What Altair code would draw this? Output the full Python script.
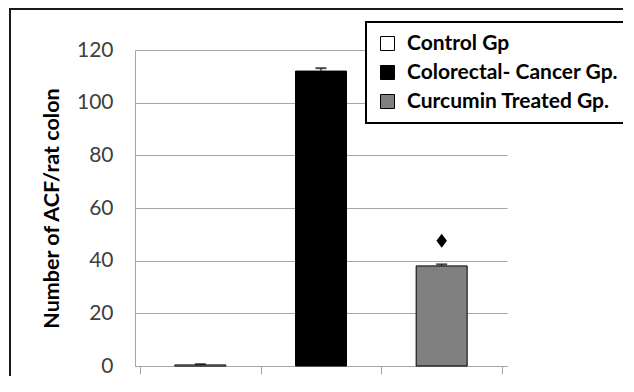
import altair as alt
import pandas as pd

groups = ["Control Gp", "Colorectal- Cancer Gp.", "Curcumin Treated Gp."]
means = [0.4, 112.0, 38.0]
errors = [0.3, 1.1, 0.6]
marker_values = [None, None, 47.6]
colors = ["#ffffff", "#000000", "#808080"]
y_ticks = [0, 20, 40, 60, 80, 100, 120]

df = pd.DataFrame({
    "group": groups,
    "pos": [i + 0.5 for i in range(len(groups))],
    "mean": means,
    "upper": [m + e for m, e in zip(means, errors)],
})
mk = pd.DataFrame({
    "pos": [i + 0.5 for i, v in enumerate(marker_values) if v is not None],
    "val": [v for v in marker_values if v is not None],
})

xscale = alt.Scale(domain=[0, 3], nice=False, zero=False)
yscale = alt.Scale(domain=[0, 120], nice=False)

x_enc = alt.X("pos:Q", scale=xscale,
              axis=alt.Axis(values=[0, 1, 2, 3], labels=False, title=None, grid=False,
                            tickSize=8, tickColor="#a6a6a6", domainColor="#a6a6a6"))
y_enc = alt.Y("mean:Q", scale=yscale,
              axis=alt.Axis(values=y_ticks, title="Number  of ACF/rat colon",
                            grid=True, gridColor="#a6a6a6", domainColor="#a6a6a6",
                            ticks=False, labelPadding=22,
                            labelFont="Lato", labelFontSize=21, labelColor="#404040",
                            titleFont="Lato", titleFontSize=21.5, titleFontWeight="bold",
                            titleColor="#000000", titleX=-72, titleY=158))

base = alt.Chart(df)

bars = base.mark_bar(size=51, stroke="#000000", strokeWidth=1).encode(
    x=x_enc,
    y=y_enc,
    color=alt.Color("group:N", sort=None,
                    scale=alt.Scale(domain=groups, range=colors),
                    legend=alt.Legend(title=None, orient="none", legendX=231, legendY=-28,
                                      symbolType="square", symbolSize=196,
                                      symbolStrokeColor="#000000", symbolStrokeWidth=1,
                                      labelFont="Lato", labelFontSize=21,
                                      labelFontWeight="bold", labelColor="#000000",
                                      labelLimit=400,
                                      labelOffset=9, rowPadding=7, padding=11,
                                      strokeColor="#000000", fillColor="#ffffff")),
)

err = base.mark_rule(color="#000000", strokeWidth=1).encode(
    x="pos:Q", y="mean:Q", y2="upper:Q")
caps = base.mark_tick(orient="horizontal", size=11, thickness=2, color="#000000").encode(
    x="pos:Q", y="upper:Q")

diamond = alt.Chart(mk).mark_point(
    shape="M0,-1L0.75,0L0,1L-0.75,0Z", filled=True, size=196, color="#000000", opacity=1
).encode(x="pos:Q", y="val:Q")

one = pd.DataFrame({"a": [0]})
frame_top = alt.Chart(one).mark_rule(stroke="#1a1a1a", strokeWidth=2).encode(
    x=alt.value(-126), x2=alt.value(495), y=alt.value(-41))
frame_left = alt.Chart(one).mark_rule(stroke="#1a1a1a", strokeWidth=2).encode(
    x=alt.value(-125), y=alt.value(-42), y2=alt.value(340))

chart = alt.layer(frame_top, frame_left, bars, err, caps, diamond).properties(
    width=372, height=316,
    autosize=alt.AutoSizeParams(type="none"),
    padding={"left": 127, "top": 42, "right": 116, "bottom": 10},
).configure_view(stroke=None).configure_legend(strokeWidth=2)

chart.save("out.html", embed_options={"renderer": "svg", "actions": False})
